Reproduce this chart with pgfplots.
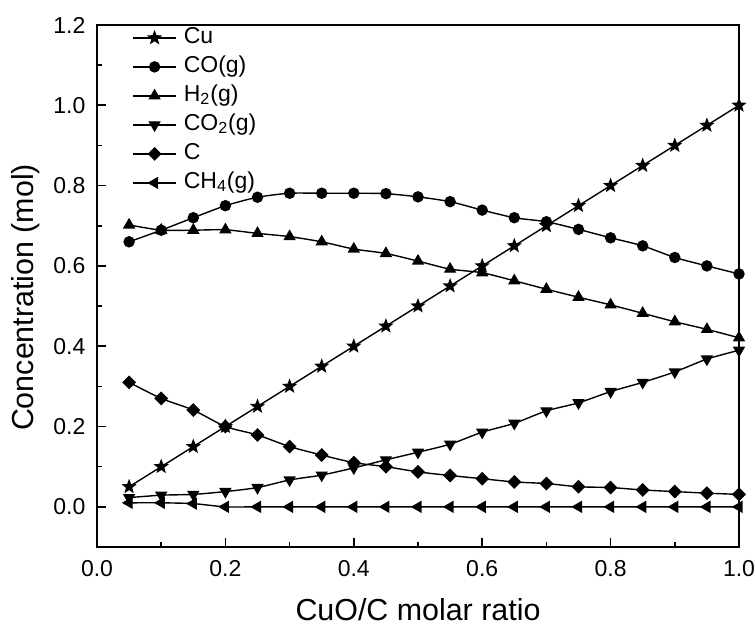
\documentclass[border=0pt]{standalone}
\usepackage{fontspec}
\setmainfont{Liberation Sans}
\usepackage{pgfplots}
\pgfplotsset{compat=1.18}
\pgfdeclareplotmark{fstar}{%
  \pgfpathmoveto{\pgfpointpolar{90}{\pgfplotmarksize}}%
  \pgfpathlineto{\pgfpointpolar{126}{0.42\pgfplotmarksize}}%
  \pgfpathlineto{\pgfpointpolar{162}{\pgfplotmarksize}}%
  \pgfpathlineto{\pgfpointpolar{198}{0.42\pgfplotmarksize}}%
  \pgfpathlineto{\pgfpointpolar{234}{\pgfplotmarksize}}%
  \pgfpathlineto{\pgfpointpolar{270}{0.42\pgfplotmarksize}}%
  \pgfpathlineto{\pgfpointpolar{306}{\pgfplotmarksize}}%
  \pgfpathlineto{\pgfpointpolar{342}{0.42\pgfplotmarksize}}%
  \pgfpathlineto{\pgfpointpolar{18}{\pgfplotmarksize}}%
  \pgfpathlineto{\pgfpointpolar{54}{0.42\pgfplotmarksize}}%
  \pgfpathclose\pgfusepathqfillstroke}
\begin{document}
\begin{tikzpicture}
\path[use as bounding box] (-48.5pt,-39pt) rectangle (329.5pt,273.5pt);
\begin{axis}[
  at={(0,0)}, anchor=south west,
  scale only axis, width=321pt, height=261pt,
  xmin=0, xmax=1, ymin=-0.1, ymax=1.2,
  xtick={0,0.2,...,1.0}, ytick={0,0.2,...,1.2},
  minor xtick={0.1,0.3,...,0.9}, minor ytick={-0.1,0.1,0.3,...,1.1},
  xtick pos=bottom, ytick pos=left,
  tick align=inside,
  major tick length=4.5pt, minor tick length=2.5pt,
  every tick/.style={black, line width=0.8pt},
  axis line style={line width=1pt},
  /pgf/number format/assume math mode=true,
  /pgf/number format/fixed, /pgf/number format/fixed zerofill, /pgf/number format/precision=1,
  ticklabel style={font=\fontsize{11.5}{13}\selectfont},
  xticklabel style={yshift=-3pt},
  yticklabel style={xshift=-2.3pt},
  xlabel={CuO/C molar ratio},
  ylabel={Concentration (mol)},
  label style={font=\fontsize{15.2}{18}\selectfont},
  xlabel style={at={(axis description cs:0.5,0)}, anchor=center, yshift=-31.5pt},
  ylabel style={at={(axis description cs:-0.1106,0.478)}, anchor=center},
  every axis plot/.append style={black, line width=0.7pt, smooth, tension=0.4},
  legend image code/.code={%
    \draw[mark repeat=2, mark phase=2, #1] plot coordinates {(0pt,0pt) (10.75pt,0pt) (21.5pt,0pt)};},
  legend cell align=left,
  legend style={draw=none, fill=none, inner sep=0pt,
    at={(axis description cs:0.0545,1)}, anchor=north west,
    font=\fontsize{11.5}{13}\selectfont,
    row sep=2pt,
    nodes={inner sep=1pt, text height=8pt, text depth=2.5pt},
    /tikz/every odd column/.append style={column sep=2.5pt}},
]
\addplot[mark=fstar, mark size=3pt, mark options={solid}] coordinates {
(0.05,0.05)(0.10,0.10)(0.15,0.15)(0.20,0.20)(0.25,0.25)(0.30,0.30)(0.35,0.35)(0.40,0.40)(0.45,0.45)(0.50,0.50)
(0.55,0.55)(0.60,0.60)(0.65,0.65)(0.70,0.70)(0.75,0.75)(0.80,0.80)(0.85,0.85)(0.90,0.90)(0.95,0.95)(1.00,1.00)};
\addlegendentry{Cu}
\addplot[mark=*, mark size=2.5pt] coordinates {
(0.05,0.660)(0.10,0.689)(0.15,0.720)(0.20,0.750)(0.25,0.771)(0.30,0.781)(0.35,0.781)(0.40,0.781)(0.45,0.780)(0.50,0.772)
(0.55,0.760)(0.60,0.739)(0.65,0.720)(0.70,0.710)(0.75,0.691)(0.80,0.670)(0.85,0.650)(0.90,0.621)(0.95,0.600)(1.00,0.580)};
\addlegendentry{CO(g)}
\addplot[mark=triangle*, mark size=2.9pt] coordinates {
(0.05,0.702)(0.10,0.689)(0.15,0.689)(0.20,0.690)(0.25,0.681)(0.30,0.673)(0.35,0.660)(0.40,0.642)(0.45,0.631)(0.50,0.612)
(0.55,0.592)(0.60,0.583)(0.65,0.563)(0.70,0.542)(0.75,0.522)(0.80,0.503)(0.85,0.482)(0.90,0.461)(0.95,0.442)(1.00,0.421)};
\addlegendentry{H\textsubscript{2}(g)}
\addplot[mark=triangle*, mark size=2.9pt, mark options={rotate=180}] coordinates {
(0.05,0.023)(0.10,0.029)(0.15,0.031)(0.20,0.038)(0.25,0.048)(0.30,0.067)(0.35,0.079)(0.40,0.097)(0.45,0.117)(0.50,0.136)
(0.55,0.156)(0.60,0.186)(0.65,0.208)(0.70,0.239)(0.75,0.259)(0.80,0.287)(0.85,0.310)(0.90,0.336)(0.95,0.368)(1.00,0.390)};
\addlegendentry{CO\textsubscript{2}(g)}
\addplot[mark=square*, mark size=2.1pt, mark options={rotate=45}] coordinates {
(0.05,0.310)(0.10,0.270)(0.15,0.241)(0.20,0.200)(0.25,0.179)(0.30,0.150)(0.35,0.129)(0.40,0.110)(0.45,0.100)(0.50,0.087)
(0.55,0.078)(0.60,0.070)(0.65,0.062)(0.70,0.058)(0.75,0.050)(0.80,0.048)(0.85,0.042)(0.90,0.038)(0.95,0.034)(1.00,0.031)};
\addlegendentry{C}
\addplot[mark=triangle*, mark size=2.9pt, mark options={rotate=90}] coordinates {
(0.05,0.010)(0.10,0.010)(0.15,0.008)(0.20,0.0)(0.25,0.0)(0.30,0.0)(0.35,0.0)(0.40,0.0)(0.45,0.0)(0.50,0.0)
(0.55,0.0)(0.60,0.0)(0.65,0.0)(0.70,0.0)(0.75,0.0)(0.80,0.0)(0.85,0.0)(0.90,0.0)(0.95,0.0)(1.00,0.0)};
\addlegendentry{CH\textsubscript{4}(g)}
\end{axis}
\end{tikzpicture}
\end{document}
